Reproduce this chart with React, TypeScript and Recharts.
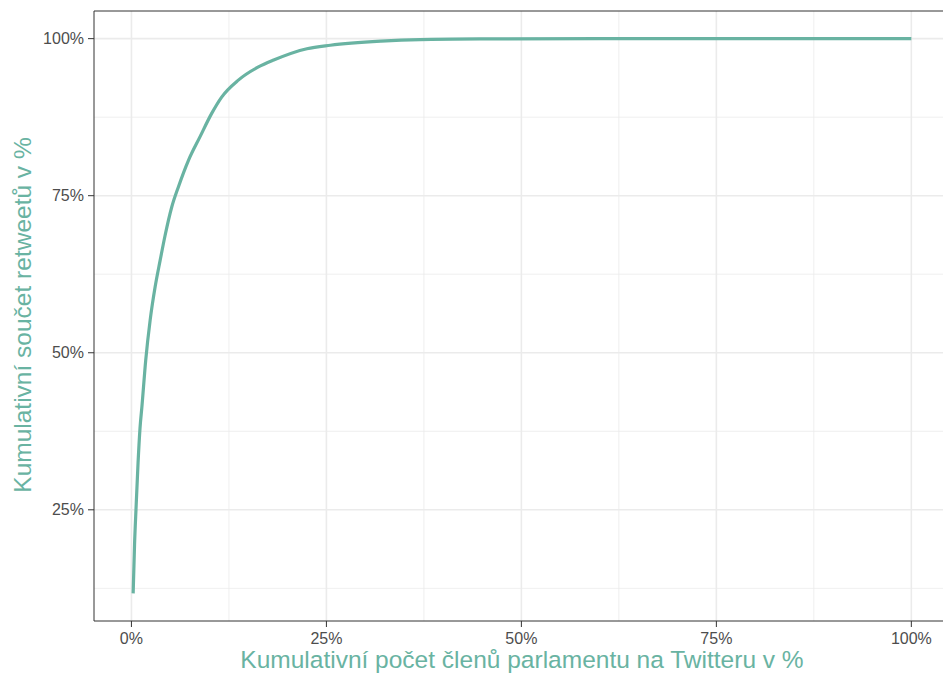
import React from "react";
import {
  LineChart,
  Line,
  XAxis,
  YAxis,
  CartesianGrid,
  ReferenceLine,
} from "recharts";

// cumulative share of members (x, %) vs cumulative share of retweets (y, %)
const memberShare = [
  0.22, 0.4, 0.6, 0.85, 1.1, 1.35, 1.83, 2.4, 3.04, 3.68, 4.32, 5.17, 6.02,
  7.3, 8.8, 10.29, 11.57, 13.71, 16.28, 18.24, 22.5, 25.5, 32, 37, 45, 60, 80,
  100,
];
const retweetShare = [
  11.7, 19.5, 25.5, 32.5, 38.0, 41.5, 48.8, 55.2, 60.5, 64.7, 68.7, 73.2, 76.4,
  80.6, 84.4, 88.1, 90.7, 93.4, 95.5, 96.6, 98.4, 98.95, 99.6, 99.85, 99.95,
  100, 100, 100,
];

const xTicks = [0, 25, 50, 75, 100];
const yTicks = [25, 50, 75, 100];
const xMinor = [12.5, 37.5, 62.5, 87.5];
const yMinor = [12.5, 37.5, 62.5, 87.5];

const xTitle = "Kumulativní počet členů parlamentu na Twitteru v %";
const yTitle = "Kumulativní součet retweetů v %";

const data = memberShare.map((x, i) => ({ x, y: retweetShare[i] }));

const TEAL = "#69b3a2";
const FONT = "'Liberation Sans', Arial, Helvetica, sans-serif";
const tickStyle = { fill: "#4d4d4d", fontSize: 16, fontFamily: FONT };

const XTitle = () => (
  <text
    x={522}
    y={668}
    textAnchor="middle"
    fill={TEAL}
    fontSize={24.5}
    fontFamily={FONT}
  >
    {xTitle}
  </text>
);

const YTitle = () => (
  <text
    x={31}
    y={315}
    transform="rotate(-90 31 315)"
    textAnchor="middle"
    fill={TEAL}
    fontSize={24.5}
    fontFamily={FONT}
  >
    {yTitle}
  </text>
);

export default function App() {
  return (
    <div style={{ position: "absolute", left: 0, top: 0, background: "#fff" }}>
      <LineChart
        width={943}
        height={675}
        data={data}
        margin={{ top: 11, right: 0, bottom: 0, left: 0 }}
      >
        <CartesianGrid
          stroke="#ebebeb"
          strokeWidth={0.8}
          horizontalValues={yMinor}
          verticalValues={xMinor}
        />
        <CartesianGrid
          stroke="#ebebeb"
          strokeWidth={1.6}
          horizontalValues={yTicks}
          verticalValues={xTicks}
        />
        <XAxis
          dataKey="x"
          type="number"
          domain={[-4.8, 104.06]}
          ticks={xTicks}
          tickFormatter={(v) => `${v}%`}
          height={54}
          allowDataOverflow
          tick={tickStyle}
          tickSize={6}
          tickMargin={6}
          axisLine={{ stroke: "#333333", strokeWidth: 1 }}
          tickLine={{ stroke: "#333333", strokeWidth: 1 }}
          label={{ content: () => <XTitle /> }}
        />
        <YAxis
          type="number"
          domain={[7.3, 104.4]}
          ticks={yTicks}
          tickFormatter={(v) => `${v}%`}
          width={94}
          allowDataOverflow
          tick={tickStyle}
          tickSize={6}
          tickMargin={4}
          axisLine={{ stroke: "#333333", strokeWidth: 1 }}
          tickLine={{ stroke: "#333333", strokeWidth: 1 }}
          label={{ content: () => <YTitle /> }}
        />
        <ReferenceLine y={104.4} stroke="#333333" strokeWidth={1} />
        <Line
          type="monotone"
          dataKey="y"
          stroke={TEAL}
          strokeWidth={3.2}
          dot={false}
          isAnimationActive={false}
        />
      </LineChart>
    </div>
  );
}
